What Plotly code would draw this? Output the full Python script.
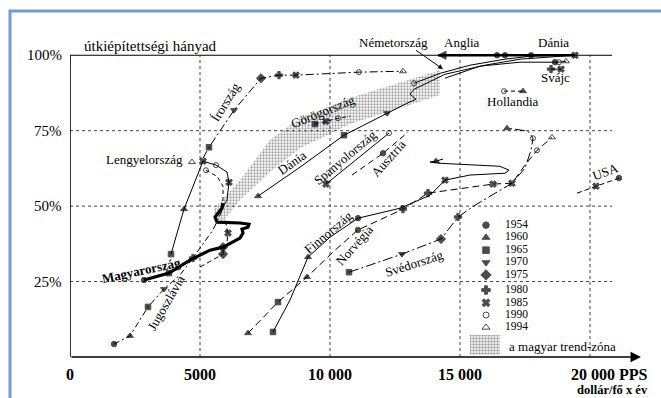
import plotly.graph_objects as go

SERIF = "Liberation Serif"

# marker glyph (symbol, size) for each survey year
EV_JEL = {
    1954: ("circle", 5.5), 1960: ("triangle-up", 6), 1965: ("square", 5.5),
    1970: ("triangle-down", 6), 1975: ("diamond", 7), 1980: ("cross", 6),
    1985: ("x", 6), 1990: ("circle-open", 5), 1994: ("triangle-up-open", 6),
    "nyil": ("arrow-left", 8), None: ("circle", 0),
}

# ---- data: GDP (PPS dollar / capita / year) vs. road-network completion (%) ----
irorszag_x = [5115, 5346, 6308, 7346, 8038, 8692, 11115, 12808]
irorszag_y = [65.9, 69.5, 81.8, 92.4, 93.4, 93.4, 94.4, 94.7]
irorszag_ev = [None, 1965, 1970, 1975, 1980, 1985, 1990, 1994]

lengyel_x = [3885, 4385, 5115, 5615, 6038, 6115, 6038, 5885, 5769]
lengyel_y = [34.1, 49.0, 64.9, 63.6, 61.3, 57.9, 52.0, 49.7, 47.0]
lengyel_ev = [1965, 1960, 1985, 1990, None, 1985, None, None, None]

lengyel2_x = [5231, 5654, 5885, 5885, 5846]
lengyel2_y = [61.9, 59.9, 56.6, 52.6, 49.3]
lengyel2_ev = [1990, None, None, None, None]

lengyel3_x = [4692]
lengyel3_y = [64.6]
lengyel3_ev = [1994]

jugo_x = [1692, 2308, 3000, 3615, 4231, 4731, 5500, 5769]
jugo_y = [4.3, 7.0, 16.6, 22.5, 27.2, 32.8, 42.1, 47.0]
jugo_ev = [1954, 1960, 1965, 1970, None, 1980, None, None]

mellekag_x = [5000, 5885, 6038, 6077, 5962]
mellekag_y = [29.8, 34.1, 37.7, 41.1, 45.4]
mellekag_ev = [None, 1975, None, 1985, None]

magyar_x = [2846, 3808, 4615, 5385, 5885, 6269, 6538, 6654, 6615, 6846, 6885,
            6538, 5885, 5654, 5577, 5692, 5846, 5885]
magyar_y = [25.5, 27.8, 32.1, 35.4, 36.4, 38.1, 39.4, 41.1, 42.4, 43.0, 44.0,
            44.4, 44.7, 44.7, 46.4, 47.7, 49.3, 51.0]
magyar_ev = [1954, 1965, None, None, 1975] + [None] * 13

trend_x = [5500, 6538, 7692, 8846, 10769, 13346, 14231,
           14231, 13346, 10769, 8846, 7692, 6538, 5769]
trend_y = [48.7, 58.6, 71.9, 79.1, 85.8, 92.7, 95.0,
           86.8, 84.4, 77.2, 69.2, 61.3, 52.0, 43.7]

gorog_x = [9423, 9846, 10308, 10769]
gorog_y = [77.2, 78.1, 79.1, 79.8]
gorog_ev = [1965, 1985, 1990, None]

dania_x = [7231, 8846, 10538, 12192, 12962, 13308, 13077, 13231, 13462, 14423,
           15962, 17308, 19423]
dania_y = [53.3, 62.9, 73.5, 80.8, 84.1, 85.4, 87.1, 88.7, 89.7, 93.7,
           96.7, 98.7, 100]
dania_ev = [1960, None, 1965, 1970] + [None] * 8 + [1985]

nemet_x = [13231, 14231, 15385, 16731, 17731, 18846]
nemet_y = [90.7, 94.0, 96.7, 98.7, 99.7, 100]
nemet_ev = [1990, None, None, None, None, None]

anglia_x = [14154, 16423, 16731, 17731, 19423]
anglia_y = [100, 100, 100, 100, 100]
anglia_ev = ["nyil", 1954, 1954, 1954, None]

svajc_x = [14423, 15769, 17308, 18654, 18808, 19077]
svajc_y = [92.4, 96.4, 97.7, 97.7, 97.7, 98.0]
svajc_ev = [None, None, None, 1954, 1990, 1994]

svajc2_x = [18500, 18885]
svajc2_y = [95.4, 95.4]
svajc2_ev = [1980, 1985]

holland_x = [16692, 17423]
holland_y = [88.1, 88.1]
holland_ev = [1990, 1960]

spanyol_x = [9846, 12269]
spanyol_y = [57.3, 74.2]
spanyol_ev = [1985, 1990]

osztrak_x = [10846, 12038, 13000]
osztrak_y = [60.3, 67.5, 74.5]
osztrak_ev = [None, 1954, None]

finn_x = [7808, 8462, 9154, 10000, 11077, 12692, 13846, 14423, 15385, 16731,
          16885, 16538, 14231, 13846, 14077, 14346]
finn_y = [8.3, 18.9, 33.1, 39.7, 46.0, 49.3, 53.6, 58.6, 60.3, 60.9,
          61.9, 63.2, 64.2, 64.6, 64.9, 65.6]
finn_ev = [1965, None, 1960, None, 1954, None, None, 1985, None, None,
           None, None, None, None, 1960, None]

norveg_x = [6846, 8000, 9115, 10192, 11077, 11923, 12808, 13769, 16269, 17000,
            17500, 17962, 18538]
norveg_y = [7.9, 18.2, 26.5, 35.4, 42.1, 45.4, 49.0, 54.3, 57.3, 57.6,
            63.6, 68.5, 72.8]
norveg_ev = [1960, 1965, 1960, None, 1954, None, 1980, 1980, 1985, None,
             None, 1990, 1994]

sved_x = [10731, 12769, 14269, 14923, 15577, 17000, 17500, 17731, 17808, 17615,
          17115, 16808]
sved_y = [28.1, 34.1, 39.1, 46.4, 50.3, 57.6, 62.6, 68.5, 72.5, 74.8,
          75.5, 75.8]
sved_ev = [1965, 1970, 1975, 1980, None, 1985, None, None, 1990, None, None, 1960]

usa_x = [19500, 20231, 21115]
usa_y = [54.3, 56.6, 59.3]
usa_ev = [None, 1985, 1954]

# legend
jelmagyarazat_ev = [1954, 1960, 1965, 1970, 1975, 1980, 1985, 1990, 1994]
jelmagyarazat_y = [43.7, 39.6, 35.4, 31.3, 27.2, 22.2, 18.0, 13.9, 9.8]

x_tick_vals = [0, 5000, 10000, 15000, 20000]
x_tick_text = ["0", "5000", "10 000", "15 000", "20 000 PPS"]
y_tick_vals = [25, 50, 75, 100]
y_tick_text = ["25%", "50%", "75%", "100%"]

fig = go.Figure()

# stippled Hungarian trend zone
fig.add_trace(go.Scatter(
    x=trend_x, y=trend_y, mode="lines", fill="toself",
    line=dict(width=0, color="rgba(0,0,0,0)"),
    fillcolor="rgba(0,0,0,0)",
    fillpattern=dict(shape=".", fgcolor="#444444", bgcolor="rgba(0,0,0,0)",
                     size=3, solidity=0.45),
    hoverinfo="skip"))


def palya(x, y, ev, dash="solid", width=1.0):
    sym = [EV_JEL[e][0] for e in ev]
    size = [EV_JEL[e][1] for e in ev]
    fig.add_trace(go.Scatter(
        x=x, y=y, mode="lines+markers",
        line=dict(color="black", width=width, dash=dash),
        marker=dict(symbol=sym, size=size, color="black",
                    line=dict(color="black", width=1)),
        hoverinfo="skip"))


palya(irorszag_x, irorszag_y, irorszag_ev, dash="8px,3px,2px,3px")
palya(lengyel_x, lengyel_y, lengyel_ev)
palya(lengyel2_x, lengyel2_y, lengyel2_ev, dash="4px,3px")
palya(lengyel3_x, lengyel3_y, lengyel3_ev)
palya(jugo_x, jugo_y, jugo_ev, dash="6px,3px,2px,3px")
palya(mellekag_x, mellekag_y, mellekag_ev, dash="5px,3px")
palya(magyar_x, magyar_y, magyar_ev, width=3.2)
palya(gorog_x, gorog_y, gorog_ev, dash="4px,3px")
palya(dania_x, dania_y, dania_ev)
palya(nemet_x, nemet_y, nemet_ev)
palya(anglia_x, anglia_y, anglia_ev, width=2.6)
palya(svajc_x, svajc_y, svajc_ev)
palya(svajc2_x, svajc2_y, svajc2_ev)
palya(holland_x, holland_y, holland_ev, dash="4px,3px")
palya(spanyol_x, spanyol_y, spanyol_ev)
palya(osztrak_x, osztrak_y, osztrak_ev, dash="6px,4px")
palya(finn_x, finn_y, finn_ev)
palya(norveg_x, norveg_y, norveg_ev, dash="7px,4px")
palya(sved_x, sved_y, sved_ev, dash="10px,3px,2px,3px")
palya(usa_x, usa_y, usa_ev, dash="5px,3px")

# legend glyphs and year labels
fig.add_trace(go.Scatter(
    x=[16000] * len(jelmagyarazat_ev), y=jelmagyarazat_y, mode="markers",
    marker=dict(symbol=[EV_JEL[e][0] for e in jelmagyarazat_ev],
                size=[EV_JEL[e][1] + 1 for e in jelmagyarazat_ev],
                color="black", line=dict(color="black", width=1)),
    hoverinfo="skip"))
fig.add_trace(go.Scatter(
    x=[16731] * len(jelmagyarazat_ev), y=jelmagyarazat_y, mode="text",
    text=[str(e) for e in jelmagyarazat_ev], textposition="middle right",
    textfont=dict(family=SERIF, size=11.5, color="black"),
    hoverinfo="skip"))
fig.add_trace(go.Scatter(
    x=[15385, 16538, 16538, 15385], y=[7.3, 7.3, 0.7, 0.7],
    mode="lines", fill="toself", line=dict(width=0, color="rgba(0,0,0,0)"),
    fillcolor="rgba(0,0,0,0)",
    fillpattern=dict(shape=".", fgcolor="#444", bgcolor="rgba(0,0,0,0)",
                     size=3, solidity=0.5),
    hoverinfo="skip"))

shapes = []
# dotted grid
for gx in [5000, 10000, 15000, 20000]:
    shapes.append(dict(type="line", xref="x", yref="y", x0=gx, x1=gx, y0=0, y1=100,
                       line=dict(color="#444", width=1, dash="dot"), layer="below"))
for gy in [25, 50, 75]:
    shapes.append(dict(type="line", xref="x", yref="y", x0=0, x1=20850, y0=gy, y1=gy,
                       line=dict(color="#444", width=1, dash="dot"), layer="below"))
# axes frame
shapes.append(dict(type="line", xref="x", yref="y", x0=0, x1=0, y0=0, y1=100,
                   line=dict(color="black", width=1.6)))
shapes.append(dict(type="line", xref="x", yref="y", x0=0, x1=20850, y0=100, y1=100,
                   line=dict(color="black", width=1.2)))
# outer blue border
shapes.append(dict(type="rect", xref="paper", yref="paper",
                   x0=-0.1049, x1=1.12, y0=-0.2, y1=1.0058,
                   line=dict(color="#6f9bd8", width=3), fillcolor="rgba(0,0,0,0)"))

ann = []
# x axis arrow
ann.append(dict(x=21960, y=0, ax=0, ay=0, xref="x", yref="y", axref="x", ayref="y",
                text="", showarrow=True, arrowhead=2, arrowsize=1.3,
                arrowwidth=1.6, arrowcolor="black"))
# German label arrow
ann.append(dict(x=14346, y=95.4, ax=13250, ay=102.0, xref="x", yref="y",
                axref="x", ayref="y", text="", showarrow=True, arrowhead=2,
                arrowsize=1, arrowwidth=1, arrowcolor="black"))

for v, t in zip(y_tick_vals, y_tick_text):
    ann.append(dict(x=0, y=v, xref="x", yref="y", text=t, showarrow=False,
                    xanchor="right", xshift=-6,
                    font=dict(family=SERIF, size=15, color="black")))
for v, t in zip(x_tick_vals, x_tick_text):
    if v == 20000:
        ann.append(dict(x=v, y=0, xref="x", yref="y", text="<b>" + t + "</b>",
                        showarrow=False, xanchor="left", xshift=-20, yshift=-17,
                        borderpad=0, font=dict(family=SERIF, size=16, color="black")))
    else:
        ann.append(dict(x=v, y=0, xref="x", yref="y", text="<b>" + t + "</b>",
                        showarrow=False, yshift=-17, borderpad=0,
                        font=dict(family=SERIF, size=16, color="black")))
ann.append(dict(x=1.0, y=0.0, xref="paper", yref="paper", text="<b>dollár/fő x év</b>",
                showarrow=False, xanchor="right", yanchor="top", xshift=7, yshift=-25,
                borderpad=0, font=dict(family=SERIF, size=12.5, color="black")))

# text labels: (text, x, y, angle, anchor, bold, size)
cimkek = [
    ("útkiépítettségi hányad", 3077, 103.2, 0, "center", False, 15),
    ("Németország", 12423, 104.3, 0, "center", False, 13),
    ("Anglia", 15077, 104.3, 0, "center", False, 13),
    ("Dánia", 18615, 104.3, 0, "center", False, 13),
    ("Svájc", 18692, 92.7, 0, "center", False, 13),
    ("Hollandia", 17038, 84.8, 0, "center", False, 13),
    ("Lengyelország", 4423, 65.4, 0, "right", False, 13),
    ("Írország", 5962, 84.4, -58, "center", False, 13),
    ("Görögország", 9731, 81.5, -22, "center", False, 13),
    ("Dánia", 8538, 64.6, -35, "center", False, 13),
    ("Spanyolország", 10577, 66.0, -40, "center", False, 13),
    ("Ausztria", 12231, 65.9, -48, "center", False, 13),
    ("Finnország", 9923, 41.4, -40, "center", False, 13),
    ("Norvégia", 10923, 37.1, -48, "center", False, 13),
    ("Svédország", 13231, 31.1, -18, "center", False, 13),
    ("Magyarország", 2731, 28.8, -12, "center", True, 13),
    ("Jugoszlávia", 3692, 18.2, -60, "center", False, 13),
    ("USA", 20615, 61.6, -20, "center", False, 13),
]
for t, x, y, ang, anc, bold, sz in cimkek:
    ann.append(dict(x=x, y=y, xref="x", yref="y",
                    text=("<b>" + t + "</b>") if bold else t,
                    showarrow=False, textangle=ang, xanchor=anc,
                    font=dict(family=SERIF, size=sz, color="black")))

ann.append(dict(x=16808, y=3.6, xref="x", yref="y", text="a magyar trend-zóna",
                showarrow=False, xanchor="left",
                font=dict(family=SERIF, size=13, color="black")))

fig.update_layout(
    width=661, height=398,
    margin=dict(l=70, r=19, t=13, b=41),
    paper_bgcolor="white", plot_bgcolor="white",
    showlegend=False,
    xaxis=dict(range=[0, 22000], showgrid=False, zeroline=False,
               showticklabels=False, showline=False, ticks=""),
    yaxis=dict(range=[0, 114], showgrid=False, zeroline=False,
               showticklabels=False, showline=False, ticks=""),
    shapes=shapes, annotations=ann,
)

fig.write_html("out.html")
